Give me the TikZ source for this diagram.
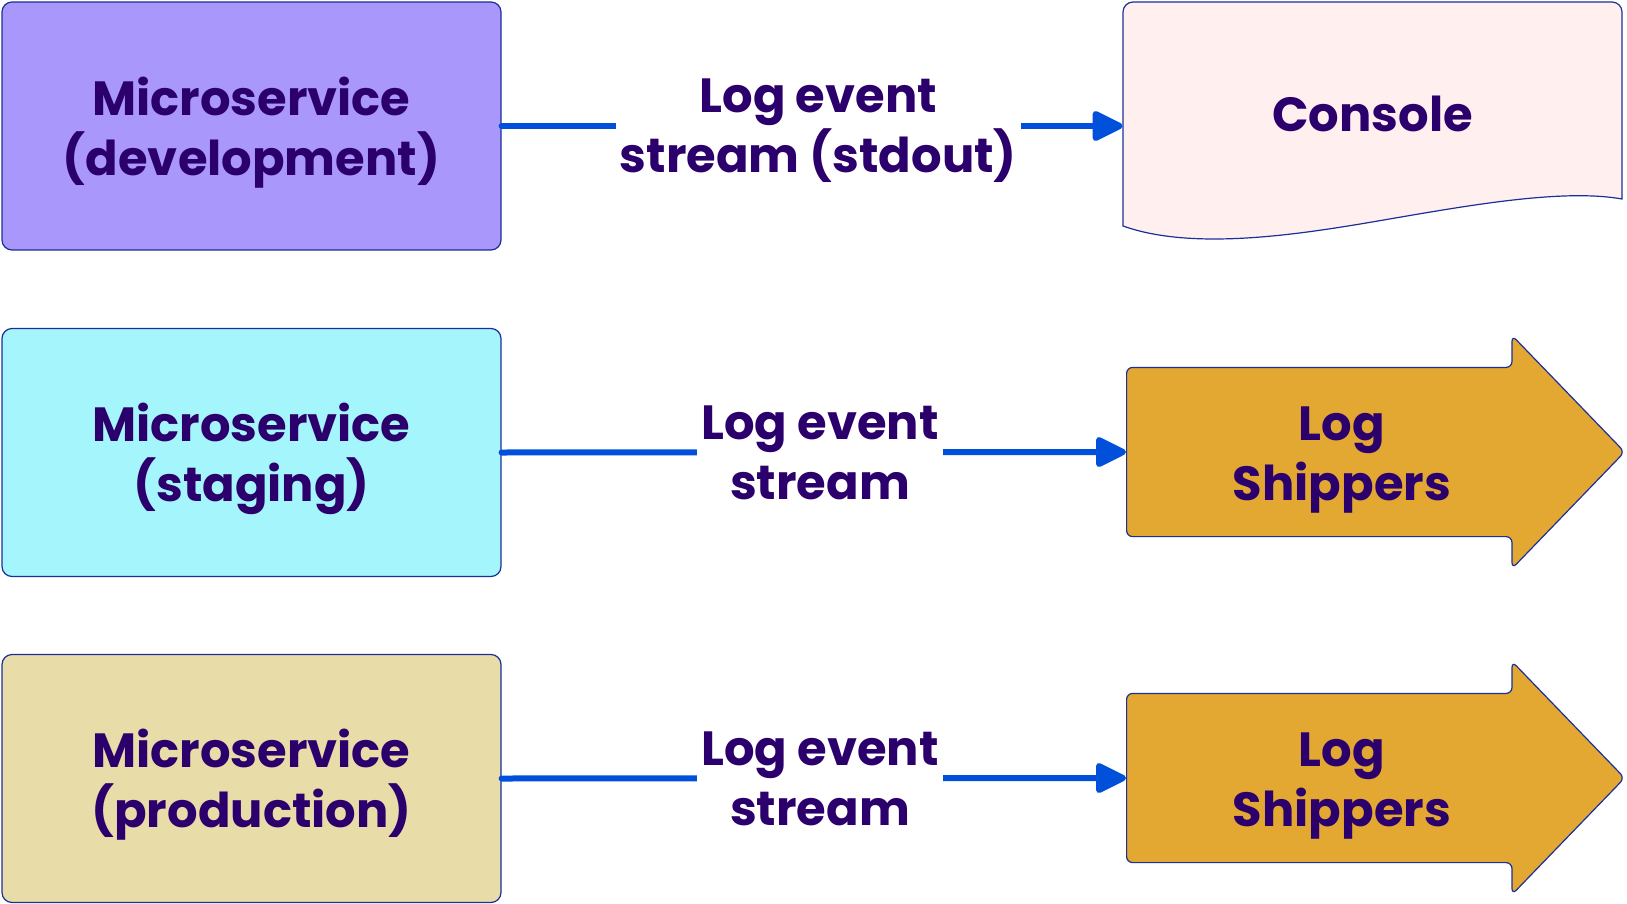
\documentclass[tikz,border=0pt]{standalone}
\usepackage{fontspec}
\setmainfont{Poppins}
\usetikzlibrary{arrows.meta,shapes.arrows}

\definecolor{inkpurple}{HTML}{2C006C}
\definecolor{edgeblue}{HTML}{1A2F9A}
\definecolor{flowblue}{HTML}{0050DC}
\definecolor{devfill}{HTML}{A997FB}
\definecolor{stagefill}{HTML}{A4F6FC}
\definecolor{prodfill}{HTML}{E8DCA8}
\definecolor{consfill}{HTML}{FFEFEF}
\definecolor{shipfill}{HTML}{E2A832}

\newcommand{\bigtxt}{\fontsize{24}{30}\selectfont\bfseries}

\begin{document}
\begin{tikzpicture}[x=0.5pt,y=-0.5pt,
  svcbox/.style={draw=edgeblue,line width=0.6pt,rounded corners=5pt,
    minimum width=249.5pt,minimum height=124pt,align=center,
    text=inkpurple,font=\bigtxt,text depth=0pt},
  shipper/.style={single arrow,draw=edgeblue,line width=0.6pt,fill=shipfill,
    rounded corners=3pt,minimum width=116pt,minimum height=249pt,
    single arrow head extend=16pt,single arrow tip angle=92,
    inner xsep=0pt,inner ysep=42pt},
  flowline/.style={draw=flowblue,line width=3pt,line cap=round,
    -{Triangle[length=17pt,width=16pt,round=false]}},
  streamlbl/.style={fill=white,inner sep=2pt,align=center,text=inkpurple,
    font=\bigtxt,text depth=0pt},
  plaintxt/.style={align=center,text=inkpurple,font=\bigtxt,text depth=0pt}]
\useasboundingbox (0,0) rectangle (1627,904);

% Source boxes
\node[svcbox,fill=devfill] (dev) at (251.5,126) {Microservice\\(development)};
\node[svcbox,fill=stagefill] (stage) at (251.5,452.5) {Microservice\\(staging)};
\node[svcbox,fill=prodfill] (prod) at (251.5,778.5) {Microservice\\(production)};

% Console (wavy bottom)
\draw[edgeblue,line width=0.6pt,fill=consfill,rounded corners=5pt]
  (1123,226) -- (1123,2) -- (1622,2) [sharp corners] -- (1622,199)
  .. controls (1560,188) and (1460,207) .. (1372,222)
  .. controls (1290,236) and (1190,250) .. (1123,226) -- cycle;
\node[plaintxt,minimum width=249.5pt,minimum height=112pt] (con) at (1372.5,114) {Console};

% Shippers
\node[shipper,anchor=tail] (ship1) at (1126,452) {};
\node[plaintxt] (ship1txt) at (1342,453.5) {Log\\Shippers};
\node[shipper,anchor=tail] (ship2) at (1126,778) {};
\node[plaintxt] (ship2txt) at (1342,779.5) {Log\\Shippers};

% Streams
\draw[flowline] (dev.east) -- node[streamlbl,pos=0.51] (lbl1) {Log event\\stream (stdout)} (dev.east -| con.west);
\draw[flowline] (stage.east) -- node[streamlbl,pos=0.51] (lbl2) {Log event\\stream} (ship1.tail);
\draw[flowline] (prod.east) -- node[streamlbl,pos=0.51] (lbl3) {Log event\\stream} (ship2.tail);

\end{tikzpicture}
\end{document}
